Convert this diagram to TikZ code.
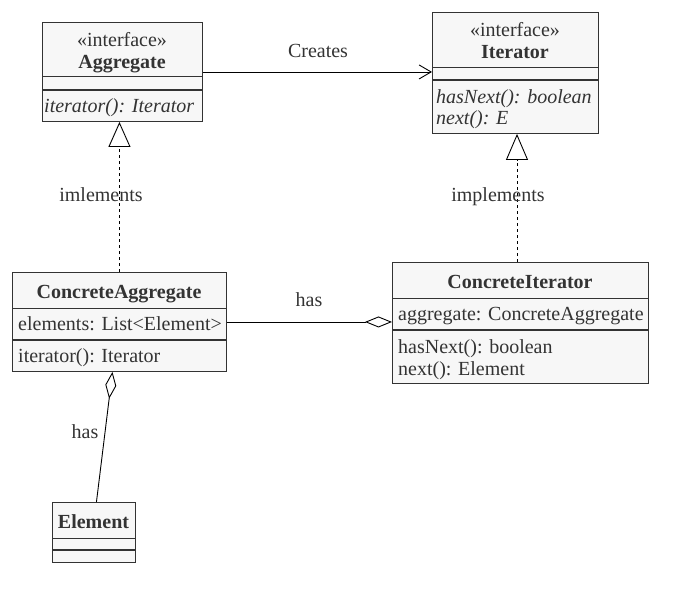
\documentclass[tikz,border=0pt]{standalone}
\usepackage{fontspec}
\setmainfont{Liberation Serif}
\usetikzlibrary{arrows.meta}
\definecolor{boxfill}{HTML}{F7F7F7}
\definecolor{ink}{HTML}{333333}
\newcommand{\fsz}{\fontsize{20}{22}\selectfont}
\tikzset{
  classbox/.style={draw=ink, fill=boxfill, line width=0.9pt, anchor=north west, inner sep=0pt},
  txt/.style={text=ink, font=\fsz, inner sep=0pt, anchor=base},
  txtl/.style={text=ink, font=\fsz, inner sep=0pt, anchor=base west},
  lbl/.style={text=ink, font=\fsz, inner sep=0pt},
  thindiv/.style={draw=ink, line width=0.9pt},
  thickdiv/.style={draw=ink, line width=1.8pt},
  conn/.style={draw=black, line width=0.9pt},
  dashconn/.style={conn, dash pattern=on 3pt off 3pt},
}
\begin{document}
\begin{tikzpicture}[x=1pt, y=-1pt]
\useasboundingbox (0,0) rectangle (697,611);

% Aggregate
\node[classbox, minimum width=160pt, minimum height=99pt] (agg) at (42,22) {};
\draw[thindiv] (42,76) -- (202,76);
\draw[thickdiv] (42,90) -- (202,90);
\node[txt] (aggst) at (122,46) {\guillemotleft interface\guillemotright};
\node[txt] (aggnm) at (122,68) {\bfseries Aggregate};
\node[txtl] (aggm) at (44,112) {\itshape iterator(): Iterator};

% Iterator
\node[classbox, minimum width=166pt, minimum height=121pt] (it) at (432,12) {};
\draw[thindiv] (432,67) -- (598,67);
\draw[thickdiv] (432,80) -- (598,80);
\node[txt] (itst) at (515,36) {\guillemotleft interface\guillemotright};
\node[txt] (itnm) at (515,58) {\bfseries Iterator};
\node[txtl] (itm1) at (436,103) {\itshape hasNext(): boolean};
\node[txtl] (itm2) at (436,124) {\itshape next(): E};

% ConcreteAggregate
\node[classbox, minimum width=214pt, minimum height=99pt] (ca) at (12,272) {};
\draw[thindiv] (12,308) -- (226,308);
\draw[thickdiv] (12,340) -- (226,340);
\node[txt] (canm) at (119,298) {\bfseries ConcreteAggregate};
\node[txtl] (caa) at (18,330) {elements: List<Element>};
\node[txtl] (cam) at (18,362) {iterator(): Iterator};

% ConcreteIterator
\node[classbox, minimum width=256pt, minimum height=121pt] (ci) at (392,262) {};
\draw[thindiv] (392,298) -- (648,298);
\draw[thickdiv] (392,330) -- (648,330);
\node[txt] (cinm) at (520,288) {\bfseries ConcreteIterator};
\node[txtl] (cia) at (398,320) {aggregate: ConcreteAggregate};
\node[txtl] (cim1) at (398,353) {hasNext(): boolean};
\node[txtl] (cim2) at (398,375) {next(): Element};

% Element
\node[classbox, minimum width=83pt, minimum height=60pt] (el) at (52,502) {};
\draw[thindiv] (52,538) -- (135,538);
\draw[thickdiv] (52,550) -- (135,550);
\node[txt] (elnm) at (93.5,528) {\bfseries Element};

% Connectors
\draw[conn, -{Straight Barb[length=12pt,width=14pt]}] (agg.east) -- (agg.east -| it.west);
\node[lbl] (lcreates) at (318,51) {Creates};

\draw[dashconn, -{Triangle[open, length=25pt, width=22pt]}] (ca.north) -- (ca.north |- agg.south);
\node[lbl] (limpl1) at (101,195) {imlements};

\coordinate (cit) at (517,262);
\draw[dashconn, -{Triangle[open, length=26pt, width=22pt]}] (cit) -- (cit |- it.south);
\node[lbl] (limpl2) at (498,197) {implements};

\draw[conn, -{Diamond[open, length=27pt, width=11pt]}] (ca.east) -- (ca.east -| ci.west);
\node[lbl] (lhas1) at (309,300) {has};

\draw[conn, -{Diamond[open, length=27pt, width=11pt]}] ([xshift=2.5pt]el.north) -- ([xshift=-7pt]ca.south);
\node[lbl] (lhas2) at (85,432) {has};
\end{tikzpicture}
\end{document}
